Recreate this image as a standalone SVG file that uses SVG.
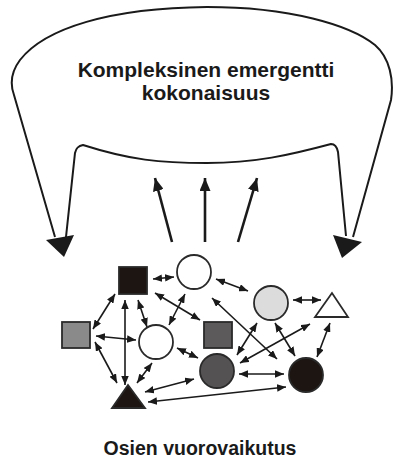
<svg xmlns="http://www.w3.org/2000/svg" width="393" height="459" viewBox="0 0 393 459">
<style>
.lbl{font-family:"Liberation Sans",Arial,sans-serif;font-weight:bold;fill:#1a1a1a;text-anchor:middle}
.outline{fill:none;stroke:#1a1a1a;stroke-width:2}
.c{fill:none;stroke:#1a1a1a;stroke-width:1.6;marker-start:url(#h);marker-end:url(#h)}
.up{fill:none;stroke:#1a1a1a;stroke-width:2.6;marker-end:url(#H)}
.n{stroke:#2a2a2a;stroke-width:1.8}
</style>
<defs>
<marker id="h" viewBox="0 0 9 7.5" refX="9" refY="3.75" markerWidth="9" markerHeight="7.5" markerUnits="userSpaceOnUse" orient="auto-start-reverse">
<path d="M0,0 L9,3.75 L0,7.5 z" fill="#1a1a1a"/>
</marker>
<marker id="H" viewBox="0 0 13 11" refX="13" refY="5.5" markerWidth="13" markerHeight="11" markerUnits="userSpaceOnUse" orient="auto">
<path d="M0,0 L13,5.5 L0,11 z" fill="#1a1a1a"/>
</marker>
</defs>
<rect width="393" height="459" fill="#ffffff"/>
<g id="whole">
<path class="outline" d="M55,237 L14,95 C10,84 11,72 20,60 C45,28 110,8 207,7 C290,7 350,25 375,45 C390,58 394,80 391,100 L353,237"/>
<path class="outline" d="M66,237 L75,153 C76,148 78,146 83,145 C130,160 160,163 207,163 C255,163 290,155 331,144 C335,144 337,147 338,152 L346,236"/>
<polygon points="46,240 74,235 64,257" fill="#1a1a1a"/>
<polygon points="333,235 362,242 342,258" fill="#1a1a1a"/>
<text class="lbl" x="206" y="77" font-size="21">Kompleksinen emergentti</text>
<text class="lbl" x="206" y="100" font-size="21">kokonaisuus</text>
</g>
<g id="emergence">
<line class="up" x1="172" y1="242" x2="155" y2="178"/>
<line class="up" x1="205" y1="242" x2="205" y2="178"/>
<line class="up" x1="238" y1="242" x2="257" y2="178"/>
</g>
<g id="connectors">
<line class="c" x1="153" y1="279" x2="174" y2="277"/>
<line class="c" x1="115" y1="294" x2="93" y2="329"/>
<line class="c" x1="125" y1="300" x2="125" y2="385"/>
<line class="c" x1="138" y1="300" x2="147" y2="327"/>
<line class="c" x1="155" y1="293" x2="200" y2="320"/>
<line class="c" x1="185" y1="294" x2="169" y2="325"/>
<line class="c" x1="96" y1="336" x2="136" y2="340"/>
<line class="c" x1="95" y1="342" x2="117" y2="383"/>
<line class="c" x1="152" y1="363" x2="137" y2="383"/>
<line class="c" x1="177" y1="348" x2="198" y2="358"/>
<line class="c" x1="145" y1="392" x2="194" y2="379"/>
<line class="c" x1="148" y1="402" x2="286" y2="387"/>
<line class="c" x1="216" y1="279" x2="248" y2="291"/>
<line class="c" x1="212" y1="298" x2="277" y2="359"/>
<line class="c" x1="293" y1="300" x2="321" y2="300"/>
<line class="c" x1="257" y1="323" x2="237" y2="355"/>
<line class="c" x1="275" y1="323" x2="295" y2="356"/>
<line class="c" x1="310" y1="324" x2="240" y2="363"/>
<line class="c" x1="330" y1="323" x2="317" y2="357"/>
<line class="c" x1="239" y1="374" x2="284" y2="374"/>
</g>
<g id="black-square"><rect class="n" x="119" y="267" width="28" height="27" fill="#1c1512"/></g>
<g id="white-circle-top"><circle class="n" cx="194" cy="272" r="17" fill="#ffffff"/></g>
<g id="gray-square"><rect class="n" x="62" y="322" width="28" height="26" fill="#8a8a8a"/></g>
<g id="white-circle-mid"><circle class="n" cx="156" cy="342" r="17" fill="#ffffff"/></g>
<g id="black-triangle"><polygon class="n" points="128,385 112,408 145,408" fill="#1c1512"/></g>
<g id="darkgray-square"><rect class="n" x="204" y="322" width="28" height="26" fill="#5c5a5b"/></g>
<g id="lightgray-circle"><circle class="n" cx="271" cy="303" r="17" fill="#dcdcdc"/></g>
<g id="white-triangle"><polygon class="n" points="332,293 315,317 348,317" fill="#ffffff"/></g>
<g id="darkgray-circle"><circle class="n" cx="217" cy="371" r="17" fill="#545253"/></g>
<g id="black-circle"><circle class="n" cx="306" cy="375" r="17" fill="#1c1512"/></g>
<g id="caption"><text class="lbl" x="200" y="455" font-size="19.5">Osien vuorovaikutus</text></g>
</svg>
